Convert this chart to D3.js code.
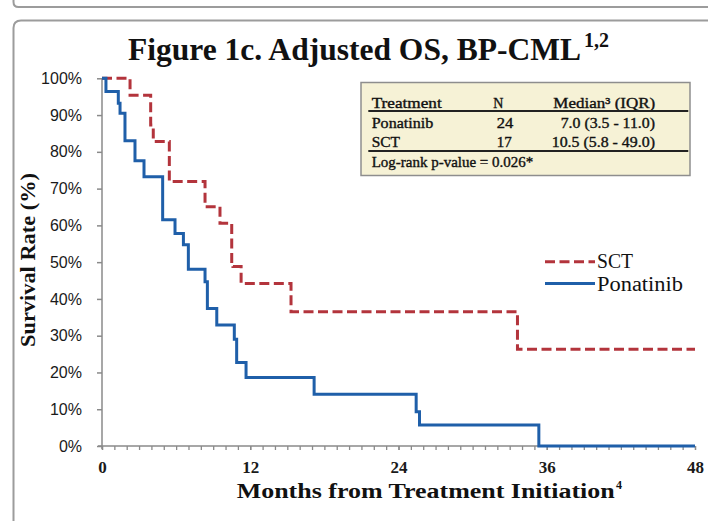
<!DOCTYPE html>
<html>
<head>
<meta charset="utf-8">
<script src="https://cdn.jsdelivr.net/npm/d3@7"></script>
<style>
  html, body { margin: 0; padding: 0; background: #fff; }
  svg { display: block; font-family: "Liberation Serif", "Times New Roman", serif; }
</style>
</head>
<body>
<svg id="chart" width="708" height="521"></svg>
<script>
// ---- data (months, survival %) ----
const ponatinibTime = [0, 0.32, 1.32, 1.46, 1.86, 2.67, 3.40, 4.91, 5.91, 6.59, 6.99, 8.34, 8.53, 9.29, 10.71, 10.90, 11.66, 17.17, 25.43, 25.70, 35.36, 48];
const ponatinibSurv = [100, 96.4, 93.2, 90.5, 83.0, 77.6, 73.2, 61.5, 57.8, 54.7, 48.1, 44.7, 37.4, 32.9, 29.0, 22.7, 18.6, 14.1, 9.3, 5.7, 0, 0];
const sctTime = [0, 2.27, 3.94, 4.15, 5.45, 8.34, 9.55, 10.50, 10.60, 11.26, 15.30, 33.63, 48];
const sctSurv = [100, 95.4, 87.3, 82.8, 71.9, 65.1, 60.6, 49.7, 48.8, 44.2, 36.5, 26.3, 26.3];
const xTickLabels = [0, 12, 24, 36, 48];
const xMinorTicks = d3.range(0, 49, 1);
const yTickLabels = [0, 10, 20, 30, 40, 50, 60, 70, 80, 90, 100];
const tableHeader = ["Treatment", "N", "Median\u00B3 (IQR)"];
const tableRows = [["Ponatinib", "24", "7.0 (3.5 - 11.0)"], ["SCT", "17", "10.5 (5.8 - 49.0)"]];
const pValueText = "Log-rank p-value = 0.026*";
const legendNames = ["SCT", "Ponatinib"];

const RED = "#b3343c", BLUE = "#1f5fa9";
const SERIF = "'Liberation Serif', 'Times New Roman', serif";
const SANS = "'Liberation Sans', Arial, sans-serif";
const svg = d3.select("#chart");

// frames
svg.append("path").attr("d", "M13.5,0 V2 Q13.5,7 18.5,7 H708")
  .attr("fill", "none").attr("stroke", "#9c9c9c").attr("stroke-width", 2);
svg.append("path").attr("d", "M708,20.5 H21 Q13.5,20.5 13.5,28 V521")
  .attr("fill", "none").attr("stroke", "#9c9c9c").attr("stroke-width", 2);

// scales
const x = d3.scaleLinear().domain([0, 48]).range([102, 695]);
const y = d3.scaleLinear().domain([0, 100]).range([446, 78.3]);

// title
svg.append("text").attr("x", 128).attr("y", 59.5)
  .style("font-family", SERIF).style("font-size", "31.5px").style("font-weight", "bold").attr("fill", "#111")
  .attr("textLength", 453).attr("lengthAdjust", "spacingAndGlyphs")
  .text("Figure 1c. Adjusted OS, BP-CML");
svg.append("text").attr("x", 584).attr("y", 46.5)
  .style("font-family", SERIF).style("font-size", "20px").style("font-weight", "bold").attr("fill", "#111")
  .attr("textLength", 25).attr("lengthAdjust", "spacingAndGlyphs")
  .text("1,2");

// axes
const axisColor = "#8a8a8a";
const gy = svg.append("g").attr("transform", `translate(${x(0)},0)`)
  .call(d3.axisLeft(y).tickValues(yTickLabels).tickSize(5).tickSizeOuter(0)
    .tickPadding(15).tickFormat(d => d + "%"));
gy.select(".domain").attr("stroke", axisColor).attr("stroke-width", 1.5)
  .attr("d", `M0,${y(100)}V${y(0) + 3}`);
gy.selectAll(".tick line").attr("stroke", axisColor).attr("stroke-width", 1.5);
gy.selectAll(".tick text").style("font-family", SANS)
  .style("font-size", "16px").attr("fill", "#1a1a1a");

const gxm = svg.append("g").attr("transform", `translate(0,${y(0)})`)
  .call(d3.axisBottom(x).tickValues(xMinorTicks).tickSize(4).tickSizeOuter(0).tickFormat(""));
gxm.select(".domain").attr("stroke", axisColor).attr("stroke-width", 1.5)
  .attr("d", `M${x(0) - 4},0H${x(48)}`);
gxm.selectAll(".tick line").attr("stroke", axisColor).attr("stroke-width", 1.3);

const gx = svg.append("g").attr("transform", `translate(0,${y(0)})`)
  .call(d3.axisBottom(x).tickValues(xTickLabels).tickSize(4).tickSizeOuter(0).tickPadding(11));
gx.select(".domain").remove();
gx.selectAll(".tick line").attr("stroke", axisColor).attr("stroke-width", 1.3);
gx.selectAll(".tick text").style("font-family", SERIF)
  .style("font-size", "17px").style("font-weight", "bold").attr("fill", "#1a1a1a");

// axis titles
svg.append("text").attr("transform", "translate(35,260) rotate(-90)")
  .attr("text-anchor", "middle").style("font-family", SERIF).style("font-size", "20px").style("font-weight", "bold").attr("fill", "#111")
  .attr("textLength", 174).attr("lengthAdjust", "spacingAndGlyphs")
  .text("Survival Rate (%)");
svg.append("text").attr("x", 236.7).attr("y", 497.5)
  .style("font-family", SERIF).style("font-size", "20px").style("font-weight", "bold").attr("fill", "#111")
  .attr("textLength", 378).attr("lengthAdjust", "spacingAndGlyphs")
  .text("Months from Treatment Initiation");
svg.append("text").attr("x", 616).attr("y", 489)
  .style("font-family", SERIF).style("font-size", "12px").style("font-weight", "bold").attr("fill", "#111").text("4");

// curves
const line = d3.line().x(d => x(d[0])).y(d => y(d[1])).curve(d3.curveStepAfter);
const sctData = sctTime.map((t, i) => [t, sctSurv[i]]);
const ponData = ponatinibTime.map((t, i) => [t, ponatinibSurv[i]]);
svg.append("path").datum(sctData).attr("d", line)
  .attr("fill", "none").attr("stroke", RED).attr("stroke-width", 3)
  .attr("stroke-dasharray", "10,4.5");
svg.append("path").datum(ponData).attr("d", line)
  .attr("fill", "none").attr("stroke", BLUE).attr("stroke-width", 3);

// legend
const legY = [261.7, 283.5];
svg.append("line").attr("x1", 545).attr("x2", 595).attr("y1", legY[0]).attr("y2", legY[0])
  .attr("stroke", RED).attr("stroke-width", 3).attr("stroke-dasharray", "10,4.5");
svg.append("line").attr("x1", 545).attr("x2", 595).attr("y1", legY[1]).attr("y2", legY[1])
  .attr("stroke", BLUE).attr("stroke-width", 3);
svg.append("text").attr("x", 597).attr("y", 268).style("font-family", SERIF).style("font-size", "20px").attr("fill", "#111")
  .attr("textLength", 36).attr("lengthAdjust", "spacingAndGlyphs")
  .text(legendNames[0]);
svg.append("text").attr("x", 597).attr("y", 290.5).style("font-family", SERIF).style("font-size", "20px").attr("fill", "#111")
  .attr("textLength", 86).attr("lengthAdjust", "spacingAndGlyphs")
  .text(legendNames[1]);

// table box
const tb = svg.append("g");
tb.append("rect").attr("x", 361).attr("y", 82.5).attr("width", 329).attr("height", 93)
  .attr("fill", "#f6f2d6").attr("stroke", "#8e8e8e").attr("stroke-width", 1.5);
const colX = [371.7, 493.3, 553.3];
const tstyle = s => s.style("font-family", SERIF).style("font-size", "14px").attr("fill", "#111")
  .attr("stroke", "#111").attr("stroke-width", 0.35);
tb.append("text").attr("x", colX[0]).attr("y", 108.3).call(tstyle)
  .attr("textLength", 70).attr("lengthAdjust", "spacingAndGlyphs").text(tableHeader[0]);
tb.append("text").attr("x", colX[1]).attr("y", 108.3).call(tstyle).text(tableHeader[1]);
tb.append("text").attr("x", colX[2]).attr("y", 108.3).call(tstyle)
  .attr("textLength", 102).attr("lengthAdjust", "spacingAndGlyphs").text(tableHeader[2]);
tb.append("line").attr("x1", 368.3).attr("x2", 688.3).attr("y1", 111).attr("y2", 111)
  .attr("stroke", "#222").attr("stroke-width", 1.8);
const rowY = [128.3, 146.7];
const rowW = [[61.6, 16.6, 94.3], [28.3, 15, 103.3]];
const rowX = [[371.7, 496.7, 560.7], [371.7, 496.7, 551.7]];
tableRows.forEach((r, i) => {
  r.forEach((c, j) => {
    tb.append("text").attr("x", rowX[i][j]).attr("y", rowY[i]).call(tstyle)
      .attr("textLength", rowW[i][j]).attr("lengthAdjust", "spacingAndGlyphs").text(c);
  });
});
tb.append("line").attr("x1", 368.3).attr("x2", 688.3).attr("y1", 151).attr("y2", 151)
  .attr("stroke", "#222").attr("stroke-width", 1.8);
tb.append("text").attr("x", 371.7).attr("y", 166.5).call(tstyle)
  .attr("textLength", 161.6).attr("lengthAdjust", "spacingAndGlyphs").text(pValueText);
</script>
</body>
</html>
